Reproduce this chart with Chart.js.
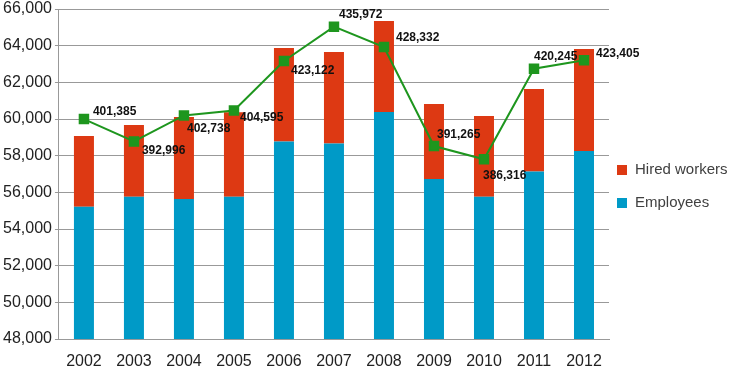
<!DOCTYPE html>
<html>
<head>
  <title>Employees and hired workers</title>
  <script src="https://cdn.jsdelivr.net/npm/chart.js"></script>
  <style>
    body { margin: 0; background: #fff; }
    #wrap { width: 741px; height: 373px; position: relative; }
  </style>
</head>
<body>
<div id="wrap"><canvas id="workChart" width="741" height="373"></canvas></div>

<script>
  const years = ['2002', '2003', '2004', '2005', '2006', '2007', '2008', '2009', '2010', '2011', '2012'];
  const employees = [55220, 55760, 55640, 55760, 58770, 58670, 60380, 56730, 55760, 57130, 58260];
  const hiredWorkers = [3850, 3910, 4470, 4610, 5100, 4990, 4970, 4090, 4400, 4510, 5560];
  const totalWorkforce = [401385, 392996, 402738, 404595, 423122, 435972, 428332, 391265, 386316, 420245, 423405];

  // where each total label sits, relative to its marker
  const labelShift = [[9, -7], [8, 9], [3, 13], [6, 7], [7, 10], [5, -12], [12, -9], [3, -11], [-1, 16], [0, -12], [12, -7]];

  const font = 'Liberation Sans, Arial, sans-serif';

  const totalLabels = {
    id: 'totalLabels',
    afterDatasetsDraw(chart) {
      const ctx = chart.ctx;
      const meta = chart.getDatasetMeta(2);
      ctx.save();
      ctx.font = 'bold 12px ' + font;
      ctx.fillStyle = '#111';
      ctx.textAlign = 'left';
      ctx.textBaseline = 'middle';
      meta.data.forEach((pt, i) => {
        const s = labelShift[i];
        ctx.fillText(totalWorkforce[i].toLocaleString('en-US'), pt.x + s[0], pt.y + s[1]);
      });
      ctx.restore();
    }
  };

  // legend on the right, bars only, top item first
  const sideLegend = {
    id: 'sideLegend',
    afterDraw(chart) {
      const ctx = chart.ctx;
      const items = [chart.data.datasets[1], chart.data.datasets[0]];
      ctx.save();
      ctx.font = '15px ' + font;
      ctx.textBaseline = 'middle';
      items.forEach((ds, i) => {
        const y = 170 + i * 33;
        ctx.fillStyle = ds.backgroundColor;
        ctx.fillRect(617, y - 5, 10, 10);
        ctx.fillStyle = '#404040';
        ctx.fillText(ds.label, 635, y);
      });
      ctx.restore();
    }
  };

  const ctx = document.getElementById('workChart').getContext('2d');
  new Chart(ctx, {
    type: 'bar',
    data: {
      labels: years,
      datasets: [
        {
          label: 'Employees',
          data: employees,
          backgroundColor: '#009AC7',
          barPercentage: 0.4,
          categoryPercentage: 1,
          order: 1
        },
        {
          label: 'Hired workers',
          data: hiredWorkers,
          backgroundColor: '#DD3913',
          barPercentage: 0.4,
          categoryPercentage: 1,
          order: 1
        },
        {
          type: 'line',
          label: 'Total',
          data: totalWorkforce,
          yAxisID: 'y2',
          borderColor: '#1E961E',
          backgroundColor: '#1E961E',
          borderWidth: 2,
          pointStyle: 'rect',
          pointRadius: 6,
          pointHoverRadius: 6,
          tension: 0,
          order: 0
        }
      ]
    },
    options: {
      responsive: false,
      animation: false,
      layout: { padding: { left: 0, top: 0, right: 132, bottom: 0 } },
      plugins: {
        legend: { display: false },
        tooltip: { enabled: false }
      },
      scales: {
        x: {
          stacked: true,
          grid: { display: false },
          border: { color: '#999' },
          ticks: { color: '#222', padding: 5, font: { family: font, size: 16 } },
          afterFit(scale) { scale.height = 34; }
        },
        y: {
          stacked: true,
          min: 48000,
          max: 66000,
          ticks: { stepSize: 2000, color: '#222', padding: 3, font: { family: font, size: 16 } },
          grid: { color: '#999', tickLength: 4 },
          border: { color: '#999' },
          afterFit(scale) { scale.paddingTop = 9; }
        },
        y2: {
          display: false,
          min: 319000,
          max: 442600
        }
      }
    },
    plugins: [totalLabels, sideLegend]
  });
</script>
</body>
</html>
